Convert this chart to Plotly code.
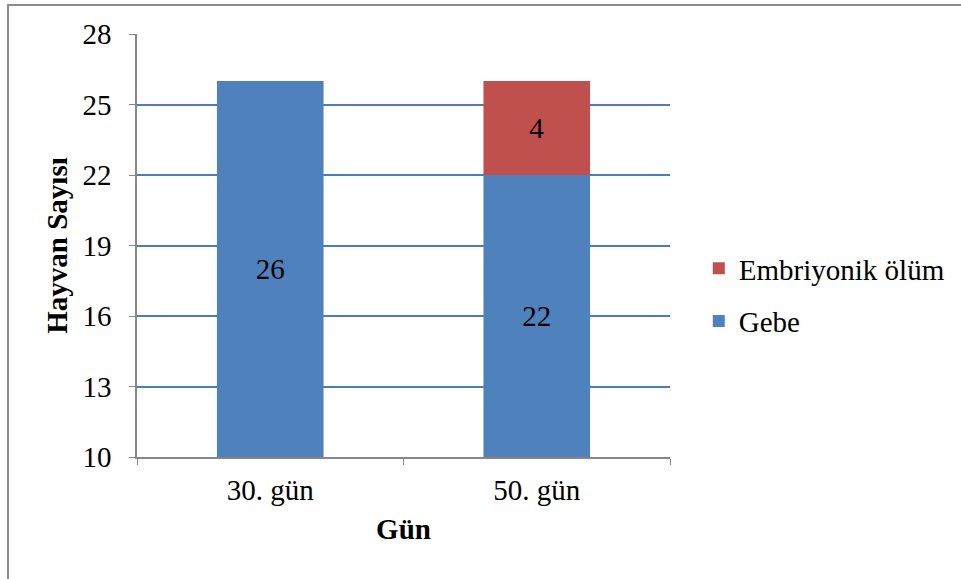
import plotly.graph_objects as go

# Gün bazında hayvan sayıları
categories = ["30. gün", "50. gün"]
gebe = [26, 22]
embriyonik_olum = [0, 4]
y_ticks = [10, 13, 16, 19, 22, 25, 28]

BASE = 10
FONT = "Liberation Serif"
FS = 29
BLUE = "#4F81BD"
RED = "#C0504D"
AXIS_GRAY = "#868686"

fig = go.Figure()

# Gebe: eksenin alt sınırından başlar
fig.add_trace(go.Bar(
    name="Gebe",
    legendgroup="gebe",
    legendrank=2,
    x=categories,
    y=[v - BASE for v in gebe],
    base=[BASE] * len(gebe),
    marker=dict(color=BLUE, line=dict(width=0)),
    text=[str(v) for v in gebe],
    textposition="inside",
    insidetextanchor="middle",
    textfont=dict(family=FONT, size=FS, color="black"),
    hoverinfo="skip",
))

# Embriyonik ölüm: Gebe çubuğunun üstüne eklenir
fig.add_trace(go.Bar(
    name="Embriyonik ölüm",
    legendgroup="olum",
    legendrank=1,
    x=categories,
    y=embriyonik_olum,
    base=gebe,
    marker=dict(color=RED, line=dict(width=0)),
    text=[str(v) if v else "" for v in embriyonik_olum],
    textposition="inside",
    insidetextanchor="middle",
    textfont=dict(family=FONT, size=FS, color="black"),
    hoverinfo="skip",
))

fig.update_layout(
    width=961,
    height=579,
    barmode="overlay",
    bargap=0.6,
    margin=dict(l=137, r=291, t=34, b=122, autoexpand=False),
    paper_bgcolor="white",
    plot_bgcolor="white",
    font=dict(family=FONT, size=FS, color="black"),
    legend=dict(
        x=1.054, y=0.383, xanchor="left", yanchor="middle",
        traceorder="grouped",
        font=dict(family=FONT, size=FS, color="black"),
        itemwidth=30,
        tracegroupgap=12,
        bgcolor="rgba(0,0,0,0)",
    ),
    xaxis=dict(
        title=dict(text="<b>Gün</b>", font=dict(family=FONT, size=FS), standoff=14),
        showline=True, linecolor=AXIS_GRAY, linewidth=1.5,
        ticks="outside", tickson="boundaries", ticklen=6, tickcolor=AXIS_GRAY,
        ticklabelstandoff=6,
        showgrid=False,
        tickfont=dict(family=FONT, size=FS),
        automargin=False,
    ),
    yaxis=dict(
        title=dict(text="<b>Hayvan Sayısı</b>", font=dict(family=FONT, size=FS), standoff=6),
        range=[BASE, 28],
        tickvals=y_ticks,
        showline=True, linecolor=AXIS_GRAY, linewidth=1.5,
        ticks="outside", ticklen=6, tickcolor=AXIS_GRAY,
        ticklabelstandoff=12,
        showgrid=True, gridcolor="#4A7EBB", gridwidth=2,
        zeroline=False,
        tickfont=dict(family=FONT, size=FS),
        automargin=False,
    ),
    shapes=[dict(
        type="rect", xref="paper", yref="paper",
        x0=-0.242, x1=2.0, y0=-1.0, y1=1.0686,
        line=dict(color="#8C8C8C", width=2),
        fillcolor="rgba(0,0,0,0)",
        layer="below",
    )],
)

fig.write_html("out.html")
